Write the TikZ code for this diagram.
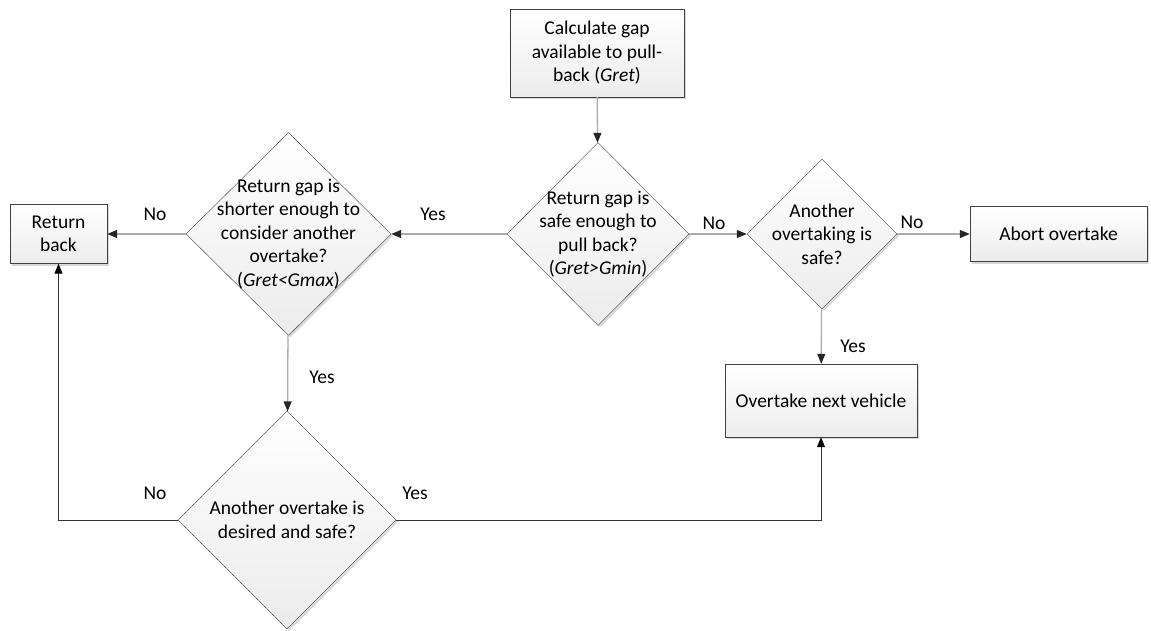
\documentclass[tikz,border=0pt]{standalone}
\usepackage{fontspec}
\setmainfont{Carlito}
\usepackage{tikz}
\usetikzlibrary{shapes.geometric, arrows.meta, shadows}
\tikzstyle{process} = [rectangle, draw=gray!50!black, top color=white, bottom color=gray!15, drop shadow={shadow xshift=2pt, shadow yshift=-2pt, fill=gray!60, opacity=0.5}, align=center, inner sep=0pt]
\tikzstyle{decision} = [diamond, draw=gray!50!black, top color=white, bottom color=gray!15, drop shadow={shadow xshift=2pt, shadow yshift=-2pt, fill=gray!60, opacity=0.5}, inner sep=0pt]
\tikzstyle{arrow} = [draw=gray!65, line width=1.3pt, -{Triangle[length=10pt, width=8pt, color=gray!30!black]}]
\tikzstyle{backline} = [draw=gray!40!black, line width=1pt, -{Triangle[length=10pt, width=8pt, color=black]}]

\begin{document}
\begin{tikzpicture}[x=1pt, y=-1pt, font=\fontsize{19.5}{23.5}\selectfont]
        \useasboundingbox (0,0) rectangle (1151,630);
        % boxes
        \node[process, minimum width=174, minimum height=88] (calc) at (597,53) {Calculate gap\\available to pull-\\back (\textit{Gret})};
        \node[process, minimum width=97, minimum height=59] (back) at (58.5,234) {Return\\back};
        \node[process, minimum width=177, minimum height=55] (abort) at (1058.5,234) {Abort overtake};
        \node[process, minimum width=192, minimum height=73] (next) at (821,400.5) {Overtake next vehicle};
        % decisions
        \node[decision, minimum width=182, minimum height=183, label={[align=center]center:{Return gap is\\safe enough to\\pull back?\\(\textit{Gret>Gmin})}}] (safe) at (598,234) {};
        \node[decision, minimum width=205, minimum height=203, label={[align=center]center:{Return gap is\\shorter enough to\\consider another\\overtake?\\(\textit{Gret<Gmax})}}] (short) at (288.5,234) {};
        \node[decision, minimum width=150, minimum height=150, label={[align=center]center:{Another\\overtaking is\\safe?}}] (other) at (822,234) {};
        \node[decision, minimum width=218, minimum height=218, label={[align=center]center:{Another overtake is\\desired and safe?}}] (desired) at (287,520) {};
        % connectors
        \draw[arrow] (calc) -- (safe);
        \draw[arrow] (safe) -- (short);
        \draw[arrow] (short) -- (back);
        \draw[arrow] (safe) -- (other);
        \draw[arrow] (other) -- (abort);
        \draw[arrow] (other) -- (next);
        \draw[arrow] (short) -- (desired);
        \draw[backline] (desired.west) -| (back.south);
        \draw[backline] (desired.east) -| (next.south);
        % branch labels
        \node (noback) at (155,214) {No};
        \node (yesshort) at (433,214) {Yes};
        \node (noother) at (714,223) {No};
        \node (noabort) at (912,222) {No};
        \node (yesnext) at (853,346) {Yes};
        \node (yesdesired) at (322,377) {Yes};
        \node (noloop) at (155,493) {No};
        \node (yesloop) at (415,493) {Yes};
    \end{tikzpicture}
\end{document}
